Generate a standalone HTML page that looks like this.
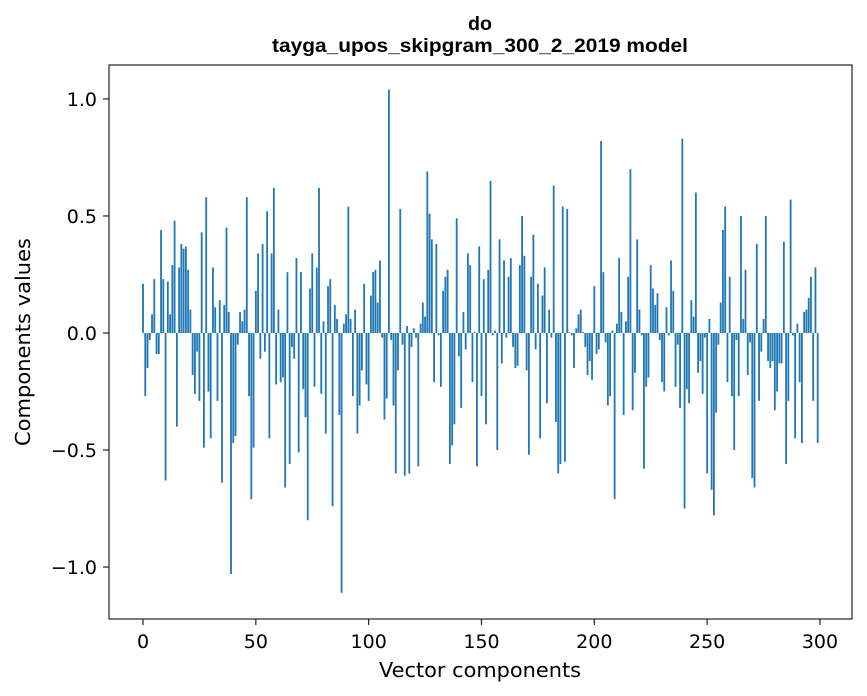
<!DOCTYPE html>
<html><head><meta charset="utf-8"><style>
body{margin:0;background:#fff;}
svg{display:block;font-family:"DejaVu Sans","Liberation Sans",sans-serif;}
.ttl{font-family:"Liberation Sans",Arial,sans-serif;font-weight:bold;}
</style></head><body>
<svg id="chart" width="867" height="696" viewBox="0 0 867 696">
<rect x="0" y="0" width="867" height="696" fill="#fff"/>
<text class="ttl" x="480" y="30" text-anchor="middle" font-size="19.5" textLength="24" lengthAdjust="spacingAndGlyphs">do</text>
<text class="ttl" x="480" y="52" text-anchor="middle" font-size="19.5" textLength="416" lengthAdjust="spacingAndGlyphs">tayga_upos_skipgram_300_2_2019 model</text>
<g id="bars"></g>
<g id="axes"></g>
<text x="480" y="677" text-anchor="middle" font-size="20.5" textLength="202" lengthAdjust="spacingAndGlyphs">Vector components</text>
<text x="30" y="342" text-anchor="middle" font-size="20.5" textLength="208" lengthAdjust="spacingAndGlyphs" transform="rotate(-90 30 342)">Components values</text>
</svg>
<script>
const values = [
0.21,-0.27,-0.15,-0.03,0.08,0.23,-0.09,-0.09,0.44,0.23,
-0.63,0.22,0.08,0.29,0.48,-0.40,0.28,0.38,0.36,0.37,
0.27,0.10,-0.18,-0.26,-0.08,-0.29,0.43,-0.49,0.58,-0.25,
-0.45,0.28,0.11,-0.29,0.14,-0.64,0.12,0.45,0.09,-1.03,
-0.47,-0.44,-0.05,0.09,0.05,0.10,0.58,-0.27,-0.71,-0.49,
0.18,0.34,-0.11,0.38,-0.08,0.52,-0.45,0.34,0.62,-0.22,
0.10,-0.21,-0.19,-0.66,0.26,-0.56,-0.06,-0.11,0.32,-0.51,
0.26,-0.24,-0.36,-0.80,0.19,0.34,-0.23,0.28,0.62,-0.26,
0.05,-0.43,0.20,0.23,-0.74,0.12,0.06,-0.35,-1.11,0.04,
0.08,0.54,0.06,-0.27,0.10,-0.43,-0.31,-0.16,0.21,-0.22,
-0.29,0.16,0.26,0.27,0.13,0.31,-0.02,-0.37,-0.28,1.04,
-0.03,-0.31,-0.60,-0.16,0.53,-0.05,-0.61,0.03,-0.60,-0.06,
0.02,-0.02,-0.57,0.04,0.13,0.07,0.69,0.51,0.40,-0.21,
0.38,-0.01,-0.23,0.18,0.24,0.27,-0.56,-0.48,-0.39,0.49,
-0.10,-0.32,0.09,-0.07,0.34,0.29,-0.21,0.005,-0.57,0.37,
-0.27,0.23,-0.39,0.27,0.65,-0.01,0.01,-0.50,0.40,-0.13,
0.31,-0.02,0.24,0.32,-0.06,-0.15,-0.14,0.29,0.50,0.33,
-0.16,-0.52,0.24,0.42,-0.07,0.21,-0.45,0.16,0.28,-0.30,
0.10,-0.02,0.63,-0.38,-0.60,-0.56,0.54,-0.55,0.53,0.003,
-0.01,-0.15,0.02,0.08,0.10,0.004,-0.06,-0.18,-0.12,-0.20,
0.20,-0.09,-0.07,0.82,0.26,-0.04,-0.31,-0.27,0.01,-0.71,
0.04,0.32,0.09,-0.35,0.05,0.24,0.70,-0.33,-0.17,0.40,
0.10,-0.01,-0.58,-0.23,-0.19,0.29,0.19,0.12,0.17,-0.03,
-0.21,-0.25,0.11,-0.01,0.31,0.18,-0.23,-0.05,-0.32,0.83,
-0.75,-0.24,-0.30,0.14,0.07,0.60,-0.17,-0.12,-0.26,-0.02,
-0.60,0.06,-0.67,-0.78,-0.34,-0.05,0.13,0.44,0.54,-0.21,
0.24,-0.27,-0.50,-0.03,-0.27,0.50,0.06,0.27,-0.18,-0.04,
-0.62,-0.66,0.38,-0.29,-0.08,0.06,0.50,-0.12,-0.15,-0.12,
-0.33,-0.25,-0.13,-0.13,0.39,-0.56,-0.29,0.57,-0.01,-0.45,
0.04,-0.21,-0.47,0.09,0.10,0.15,0.24,-0.29,0.28,-0.47
];
const xTicks = [0,50,100,150,200,250,300];
const yTicks = [-1.0,-0.5,0.0,0.5,1.0];
const yTickLabels = ["\u22121.0","\u22120.5","0.0","0.5","1.0"];

const L=109,R=852,T=65,B=619;
const xMin=-15.07,xMax=314.2,yMin=-1.222,yMax=1.145;
const xs=v=>L+(v-xMin)/(xMax-xMin)*(R-L);
const ys=v=>B-(v-yMin)/(yMax-yMin)*(B-T);
const NS="http://www.w3.org/2000/svg";
const bars=document.getElementById('bars');
const axes=document.getElementById('axes');
values.forEach((v,i)=>{
  const r=document.createElementNS(NS,'rect');
  const x0=xs(i-0.4),x1=xs(i+0.4);
  const y0=ys(Math.max(v,0)),y1=ys(Math.min(v,0));
  r.setAttribute('x',x0);r.setAttribute('width',x1-x0);
  r.setAttribute('y',y0);r.setAttribute('height',Math.max(y1-y0,0));
  r.setAttribute('fill','#1f77b4');
  
  
  bars.appendChild(r);
});
const frame=document.createElementNS(NS,'rect');
frame.setAttribute('x',L);frame.setAttribute('y',T);
frame.setAttribute('width',R-L);frame.setAttribute('height',B-T);
frame.setAttribute('fill','none');frame.setAttribute('stroke','#222');frame.setAttribute('stroke-width','1.2');


axes.appendChild(frame);
xTicks.forEach(t=>{
  const x=xs(t);
  const l=document.createElementNS(NS,'line');
  l.setAttribute('x1',x);l.setAttribute('x2',x);l.setAttribute('y1',B);l.setAttribute('y2',B+6);
  l.setAttribute('stroke','#222');l.setAttribute('stroke-width','1.2');
  
  
  axes.appendChild(l);
  const tx=document.createElementNS(NS,'text');
  tx.setAttribute('transform','translate('+x+','+(B+29)+') scale(1,1)');
  tx.setAttribute('text-anchor','middle');tx.setAttribute('font-size','19');
  tx.textContent=t;
  
  
  axes.appendChild(tx);
});
yTicks.forEach((t,i)=>{
  const y=ys(t);
  const l=document.createElementNS(NS,'line');
  l.setAttribute('x1',L-6);l.setAttribute('x2',L);l.setAttribute('y1',y);l.setAttribute('y2',y);
  l.setAttribute('stroke','#222');l.setAttribute('stroke-width','1.2');
  
  
  axes.appendChild(l);
  const tx=document.createElementNS(NS,'text');
  tx.setAttribute('transform','translate('+(L-12)+','+(y+7)+') scale(1,1)');
  tx.setAttribute('text-anchor','end');tx.setAttribute('font-size','19');
  tx.textContent=yTickLabels[i];
  
  
  axes.appendChild(tx);
});
</script>
</body></html>
